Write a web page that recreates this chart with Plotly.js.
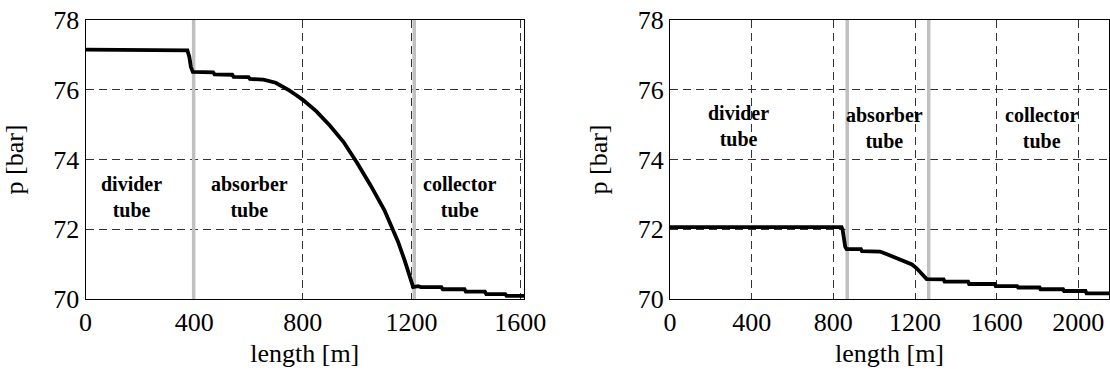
<!DOCTYPE html>
<html>
<head>
<meta charset="utf-8">
<script src="https://cdn.plot.ly/plotly-3.0.1.min.js"></script>
<style>
  html, body { margin: 0; padding: 0; background: #fff; }
  #chart { width: 1110px; height: 374px; }
</style>
</head>
<body>
<div id="chart"></div>
<script>
// ---- Left panel: pressure along loop (length up to ~1614 m) ----
const lengthLeft = [0, 375, 382, 388, 395, 470, 475, 540, 545, 600, 605, 655, 700, 725, 750, 775, 800, 850, 900, 950, 1000, 1050, 1100, 1125, 1150, 1175, 1195, 1206, 1224, 1235, 1310, 1315, 1395, 1400, 1470, 1475, 1545, 1550, 1614];
const pressureLeft = [77.15, 77.13, 76.95, 76.65, 76.51, 76.50, 76.44, 76.43, 76.37, 76.36, 76.31, 76.29, 76.20, 76.10, 75.98, 75.85, 75.71, 75.38, 74.97, 74.50, 73.90, 73.25, 72.55, 72.10, 71.65, 71.10, 70.60, 70.34, 70.37, 70.34, 70.34, 70.28, 70.28, 70.21, 70.21, 70.14, 70.14, 70.09, 70.09];
const boundariesLeft = [398, 1210];

// ---- Right panel: pressure along loop (length up to ~2150 m) ----
const lengthRight = [0, 840, 845, 850, 858, 865, 935, 940, 1028, 1060, 1093, 1130, 1159, 1185, 1208, 1235, 1257, 1340, 1345, 1460, 1465, 1590, 1595, 1700, 1705, 1810, 1815, 1925, 1930, 2035, 2040, 2150];
const pressureRight = [72.06, 72.06, 72.00, 71.75, 71.50, 71.43, 71.43, 71.37, 71.36, 71.29, 71.21, 71.13, 71.07, 70.99, 70.88, 70.70, 70.57, 70.56, 70.50, 70.50, 70.43, 70.43, 70.37, 70.37, 70.33, 70.33, 70.28, 70.28, 70.23, 70.23, 70.16, 70.16];
const boundariesRight = [868, 1267];

// ---- Labels ----
const sectionLabels = ["divider<br>tube", "absorber<br>tube", "collector<br>tube"];
const labelXLeft = [171, 604, 1377];
const labelYLeft = [72.92, 72.92, 72.92];
const labelXRight = [337, 1050, 1818];
const labelYRight = [74.97, 74.89, 74.91];

const xTicksLeft = [0, 400, 800, 1200, 1600];
const xTicksRight = [0, 400, 800, 1200, 1600, 2000];
const yTicks = [70, 72, 74, 76, 78];
const xRangeLeft = [0, 1614];
const xRangeRight = [0, 2150];
const yRange = [70, 78];

const FONT = 'Liberation Serif';
const GRAY = '#c0c0c0';

function boundaryTraces(bounds, xa, ya) {
  return bounds.map(b => ({
    x: [b, b], y: yRange, xaxis: xa, yaxis: ya, mode: 'lines',
    line: {color: GRAY, width: 3.5}, hoverinfo: 'skip'
  }));
}

const traces = [
  ...boundaryTraces(boundariesLeft, 'x', 'y'),
  ...boundaryTraces(boundariesRight, 'x2', 'y2'),
  {x: lengthLeft, y: pressureLeft, xaxis: 'x', yaxis: 'y', mode: 'lines',
   line: {color: 'black', width: 3.8}},
  {x: lengthRight, y: pressureRight, xaxis: 'x2', yaxis: 'y2', mode: 'lines',
   line: {color: 'black', width: 3.8}}
];

function annos(xs, ys, xref, yref) {
  return sectionLabels.map((t, i) => ({
    x: xs[i], y: ys[i], xref: xref, yref: yref, text: '<b>' + t + '</b>',
    showarrow: false, xanchor: 'center', yanchor: 'middle',
    font: {family: FONT, size: 20, color: 'black', weight: 'bold'}
  }));
}

function xAxis(domain, range, ticks, anchor) {
  return {
    domain: domain, range: range, tickvals: ticks, ticktext: ticks.map(String),
    anchor: anchor, showgrid: true, gridcolor: '#333', gridwidth: 1, griddash: '8px,5px',
    showline: true, mirror: true, linecolor: 'black', linewidth: 1,
    zeroline: false, ticks: '', tickfont: {family: FONT, size: 26, color: 'black'},
    title: {text: 'length [m]', font: {family: FONT, size: 26, color: 'black'}, standoff: 7},
    automargin: false, fixedrange: true
  };
}
function yAxis(domain, anchor) {
  return {
    domain: domain, range: yRange, tickvals: yTicks, ticktext: yTicks.map(String),
    anchor: anchor, showgrid: true, gridcolor: '#333', gridwidth: 1, griddash: '8px,5px',
    showline: true, mirror: true, linecolor: 'black', linewidth: 1,
    zeroline: false, ticks: '', tickfont: {family: FONT, size: 26, color: 'black'},
    title: {text: 'p [bar]', font: {family: FONT, size: 26, color: 'black'}, standoff: 22},
    automargin: false, fixedrange: true
  };
}

const yDom = [1 - 299 / 374, 1 - 20 / 374];
const layout = {
  width: 1110, height: 374,
  margin: {l: 0, r: 0, t: 0, b: 0},
  paper_bgcolor: 'white', plot_bgcolor: 'white',
  showlegend: false,
  font: {family: FONT, color: 'black'},
  xaxis: xAxis([85.5 / 1110, 524 / 1110], xRangeLeft, xTicksLeft, 'y'),
  yaxis: yAxis(yDom, 'x'),
  xaxis2: xAxis([670 / 1110, 1109 / 1110], xRangeRight, xTicksRight, 'y2'),
  yaxis2: yAxis(yDom, 'x2'),
  annotations: [
    ...annos(labelXLeft, labelYLeft, 'x', 'y'),
    ...annos(labelXRight, labelYRight, 'x2', 'y2')
  ]
};

Plotly.newPlot('chart', traces, layout, {staticPlot: true, displayModeBar: false});
</script>
</body>
</html>
